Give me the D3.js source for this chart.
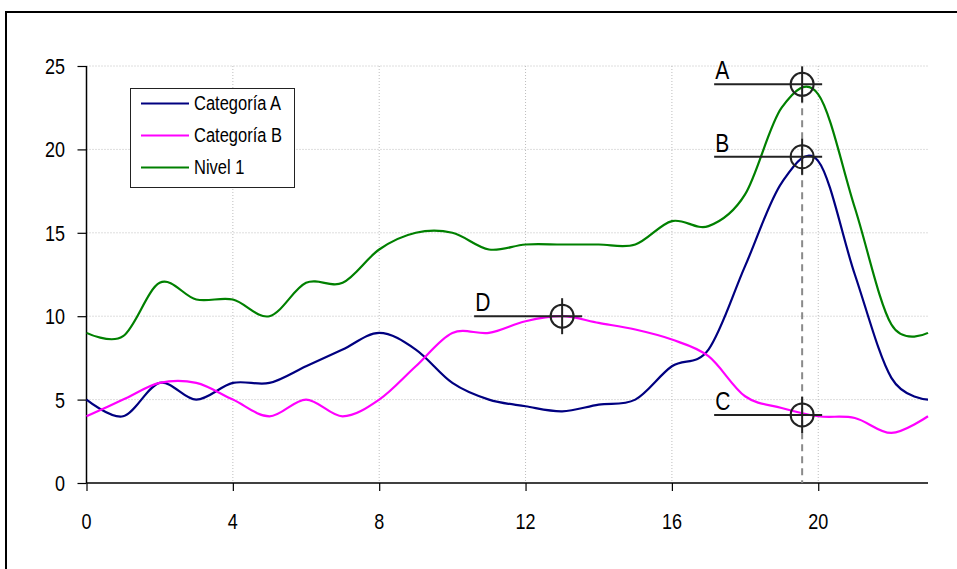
<!DOCTYPE html>
<html>
<head>
<meta charset="utf-8">
<script src="https://cdn.jsdelivr.net/npm/d3@7"></script>
<style>
  html, body { margin: 0; padding: 0; background: #fff; }
  svg { display: block; }
  text { font-family: "Liberation Sans", Arial, sans-serif; fill: #000; }
</style>
</head>
<body>
<svg id="chart" width="957" height="569"></svg>
<script>
// ---- data ----
const hours = d3.range(0, 24);
const categoriaA = [5, 4, 6, 5, 6, 6, 7, 8, 9, 8, 6, 5, 4.6, 4.3, 4.7, 5, 7, 8, 13, 18, 19.3, 12.5, 6.3, 5];
const categoriaB = [4, 5, 6, 6, 5, 4, 5, 4, 5, 7, 9, 9, 9.7, 10, 9.6, 9.2, 8.6, 7.6, 5.2, 4.5, 4, 3.9, 3, 4];
const nivel1 = [9, 8.8, 12, 11, 11, 10, 12, 12, 14, 15, 15, 14, 14.3, 14.3, 14.3, 14.3, 15.7, 15.4, 17.3, 22.5, 23.3, 16.5, 9.5, 9];
const seriesNames = ["Categoría A", "Categoría B", "Nivel 1"];
const seriesColors = ["#000080", "#ff00ff", "#008000"];
const xTicks = [0, 4, 8, 12, 16, 20];
const yTicks = [0, 5, 10, 15, 20, 25];
const markerLabels = ["A", "B", "C", "D"];
const markerX = [19.56, 19.56, 19.56, 13];
const markerY = [23.9, 19.56, 4.08, 10];
const cursorX = 19.56;

const svg = d3.select("#chart");
const x = d3.scaleLinear().domain([0, 23]).range([86.5, 928]);
const y = d3.scaleLinear().domain([0, 25]).range([483, 66]);

// outer frame
svg.append("rect").attr("x", 6).attr("y", 12).attr("width", 1100).attr("height", 700)
  .attr("fill", "none").attr("stroke", "#000").attr("stroke-width", 2);

function sText(parent, px, py, str, size, sy, anchor) {
  return parent.append("text")
    .attr("transform", `translate(${px},${py}) scale(1,${sy})`)
    .attr("text-anchor", anchor || "start")
    .attr("font-size", size)
    .text(str);
}

// grid
const grid = svg.append("g");
grid.selectAll("line.h").data(yTicks.filter(d => d > 0)).join("line")
  .attr("x1", x(0)).attr("x2", x(23)).attr("y1", d => y(d)).attr("y2", d => y(d))
  .attr("stroke", "#bdbdbd").attr("stroke-width", 1).attr("stroke-dasharray", "1,2");
grid.selectAll("line.v").data(xTicks.filter(d => d > 0)).join("line")
  .attr("x1", d => x(d)).attr("x2", d => x(d)).attr("y1", y(25)).attr("y2", y(0))
  .attr("stroke", "#bdbdbd").attr("stroke-width", 1).attr("stroke-dasharray", "1,2");

// axes
const yAxis = d3.axisLeft(y).tickValues(yTicks).tickSize(9).tickFormat("");
const gy = svg.append("g").attr("transform", `translate(${x(0)},0)`).call(yAxis);
const xAxis = d3.axisBottom(x).tickValues(xTicks).tickSize(8).tickFormat("");
const gx = svg.append("g").attr("transform", `translate(0,${y(0)})`).call(xAxis);
[gx, gy].forEach(g => {
  g.select(".domain").attr("stroke", "#000").attr("stroke-width", 1.5);
  g.selectAll(".tick line").attr("stroke", "#000").attr("stroke-width", 1.2);
});
gx.select(".domain").attr("d", `M${x(0)},0H${x(23)}`);
gy.select(".domain").attr("d", `M0,${y(25)}V${y(0)}`);

yTicks.forEach(v => sText(svg, 65, y(v) + 8, String(v), 18, 1.25, "end"));
xTicks.forEach(v => sText(svg, x(v), y(0) + 46, String(v), 18, 1.25, "middle"));

// series (smoothed lines)
const line = d3.line().x((d, i) => x(hours[i])).y(d => y(d)).curve(d3.curveCatmullRom.alpha(0));
[categoriaA, categoriaB, nivel1].forEach((s, i) => {
  svg.append("path").attr("d", line(s)).attr("fill", "none")
    .attr("stroke", seriesColors[i]).attr("stroke-width", 2.2);
});

// cursor dashed line
svg.append("line").attr("x1", x(cursorX)).attr("x2", x(cursorX))
  .attr("y1", y(markerY[0]) + 12).attr("y2", y(0))
  .attr("stroke", "#8a8a8a").attr("stroke-width", 2).attr("stroke-dasharray", "7,5");

// markers
markerLabels.forEach((lab, i) => {
  const cx = x(markerX[i]), cy = y(markerY[i]);
  const g = svg.append("g");
  g.append("line").attr("x1", cx - 88).attr("x2", cx + 20).attr("y1", cy).attr("y2", cy)
    .attr("stroke", "#222").attr("stroke-width", 2);
  g.append("line").attr("x1", cx).attr("x2", cx).attr("y1", cy - 18).attr("y2", cy + 18)
    .attr("stroke", "#222").attr("stroke-width", 2);
  g.append("circle").attr("cx", cx).attr("cy", cy).attr("r", 11.5)
    .attr("fill", "none").attr("stroke", "#222").attr("stroke-width", 2);
  sText(g, cx - 87, cy - 5, lab, 21, 1.2, "start");
});

// legend
const lg = svg.append("g");
lg.append("rect").attr("x", 130.5).attr("y", 88.5).attr("width", 164).attr("height", 99)
  .attr("fill", "#fff").attr("stroke", "#222").attr("stroke-width", 1);
seriesNames.forEach((n, i) => {
  const ly = 103.5 + i * 32;
  lg.append("line").attr("x1", 141).attr("x2", 189).attr("y1", ly).attr("y2", ly)
    .attr("stroke", seriesColors[i]).attr("stroke-width", 2.2);
  sText(lg, 194, ly + 6, n, 16.5, 1.2, "start");
});
</script>
</body>
</html>
